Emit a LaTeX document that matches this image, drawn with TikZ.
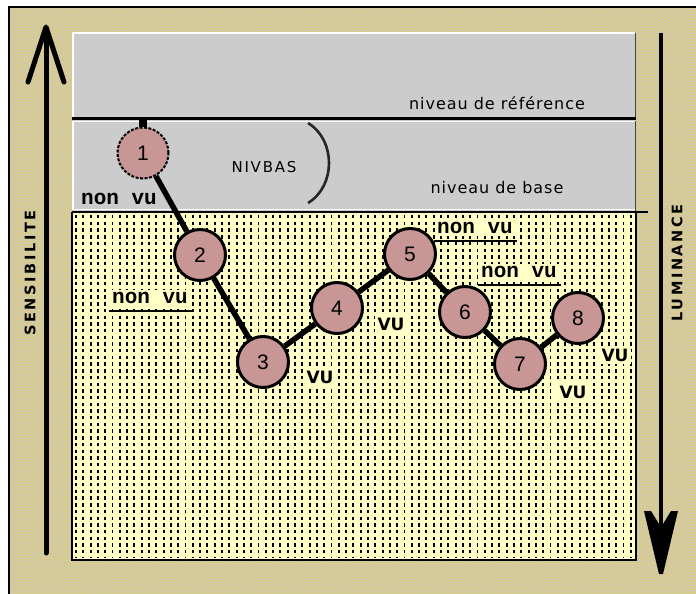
\documentclass[tikz,border=0pt]{standalone}
\usepackage{fontspec}
\usetikzlibrary{patterns}
\newfontfamily\axisfont[LetterSpace=18]{DejaVu Sans}
\newfontfamily\levelfont[LetterSpace=6]{DejaVu Sans}
\newfontfamily\nivfont[LetterSpace=12]{DejaVu Sans}
\newfontfamily\nvfont{Liberation Mono}
\newfontfamily\numfont{Liberation Sans}
\newfontfamily\vufont{DejaVu Sans}
\definecolor{outergray}{RGB}{208,203,172}
\definecolor{dotyellow}{RGB}{238,200,60}
\definecolor{panelgray}{RGB}{204,204,204}
\definecolor{paleyellow}{RGB}{255,255,200}
\definecolor{rose}{RGB}{201,150,150}
\begin{document}
\begin{tikzpicture}[x=1pt,y=-1pt,
  circ/.style={circle,draw=black,line width=3pt,fill=rose,minimum size=51pt,inner sep=0pt,
    font=\numfont\fontsize{21}{21}\selectfont},
  link/.style={line width=5.5pt,black},
  nonvu/.style={font=\nvfont\bfseries\fontsize{21}{21}\selectfont,inner sep=2pt},
  vu/.style={font=\vufont\bfseries\fontsize{17}{17}\selectfont,fill=paleyellow,inner sep=2.5pt},
  under/.style={line width=1.6pt},
  axislabel/.style={font=\axisfont\bfseries\fontsize{14.5}{15}\selectfont,rotate=90},
  leveltext/.style={font=\levelfont\fontsize{16}{16}\selectfont},
  thickline/.style={line width=5pt,line join=round,line cap=round}
]
\useasboundingbox (0,0) rectangle (696,594);
% background and frame
\fill[white] (0,0) rectangle (696,594);
\fill[outergray] (9,7) rectangle (696,594);
\fill[pattern=crosshatch dots,pattern color=dotyellow] (9,7) rectangle (696,594);
\draw[line width=2pt] (9,594) -- (9,7) -- (696,7);
% gray panels
\fill[panelgray] (72,32) rectangle (636,212);
\draw[white,line width=1.5pt] (73,117) -- (73,33) -- (635,33);
\draw[white,line width=1.5pt] (73,210) -- (73,121.5) -- (635,121.5);
\draw[black!75,line width=1.5pt] (635.5,33) -- (635.5,117);
\draw[black!75,line width=1.5pt] (635.5,121) -- (635.5,211);
\draw[line width=3pt] (72,118.5) -- (636,118.5);
\draw[white,line width=1.5pt] (73,209.5) -- (635,209.5);
% yellow region
\fill[paleyellow] (72,212) rectangle (636,560);
\foreach \i in {0,...,76}{
  \draw[black,line width=1.9pt,dash pattern=on 3.4pt off 3.3pt] (76+7.3*\i,215) -- (76+7.3*\i,558);
}
\draw[line width=2.5pt] (72,212) -- (72,560) -- (636,560) -- (636,212);
\draw[line width=2pt] (72,212) -- (648,212);
% axes
\draw[thickline] (46,553) -- (46,29);
\draw[thickline] (28,82) -- (46,27) -- (64,82);
\draw[line width=4.5pt] (661,33) -- (661,545);
\fill (644,511) -- (651,511) -- (659,524) -- (663,524) -- (671,511) -- (678,511) -- (663,574) -- (659,574) -- cycle;
\node[axislabel] (sens) at (30,273) {SENSIBILITE};
\node[axislabel] (lum) at (677,263) {LUMINANCE};
% level texts
\node[leveltext] (ref) at (497,103) {niveau de référence};
\node[leveltext] (base) at (497,188) {niveau de base};
\node[font=\nivfont\fontsize{15}{15}\selectfont] (nivbas) at (264,167) {NIVBAS};
\draw[line width=2.6pt,black!85] (308,123) .. controls (336,140) and (336,186) .. (308,203);
% labels
\node[nonvu] (nv1) at (119,199) {non vu};
\node[nonvu,fill=paleyellow] (nv2) at (150,298) {non vu};
\draw[under] ([xshift=-1pt,yshift=-5pt]nv2.south west) -- ([xshift=2pt,yshift=-5pt]nv2.south east);
\node[nonvu,fill=paleyellow] (nv3) at (475,228) {non vu};
\draw[under] ([xshift=-1pt,yshift=-5pt]nv3.south west) -- ([xshift=2pt,yshift=-5pt]nv3.south east);
\node[nonvu,fill=paleyellow] (nv4) at (519,272) {non vu};
\draw[under] ([xshift=-1pt,yshift=-5pt]nv4.south west) -- ([xshift=2pt,yshift=-5pt]nv4.south east);
\node[vu] (vu3) at (320,377) {VU};
\node[vu] (vu4) at (391,324) {VU};
\node[vu] (vu8) at (615,355) {VU};
\node[vu] (vu7) at (573,392) {VU};
% circles
\fill (139,117) rectangle (147,127);
\node[circ,line width=2pt,dash pattern=on 3pt off 1.5pt] (c1) at (143,153) {1};
\node[circ] (c2) at (200,255) {2};
\node[circ] (c3) at (263,362) {3};
\node[circ] (c4) at (337,308) {4};
\node[circ] (c5) at (410,254) {5};
\node[circ] (c6) at (465,312) {6};
\node[circ] (c7) at (520,364) {7};
\node[circ] (c8) at (578,318) {8};
% links
\draw[link] (c1) -- (c2);
\draw[link] (c2) -- (c3);
\draw[link] (c3) -- (c4);
\draw[link] (c4) -- (c5);
\draw[link] (c5) -- (c6);
\draw[link] (c6) -- (c7);
\draw[link] (c7) -- (c8);
\end{tikzpicture}
\end{document}
